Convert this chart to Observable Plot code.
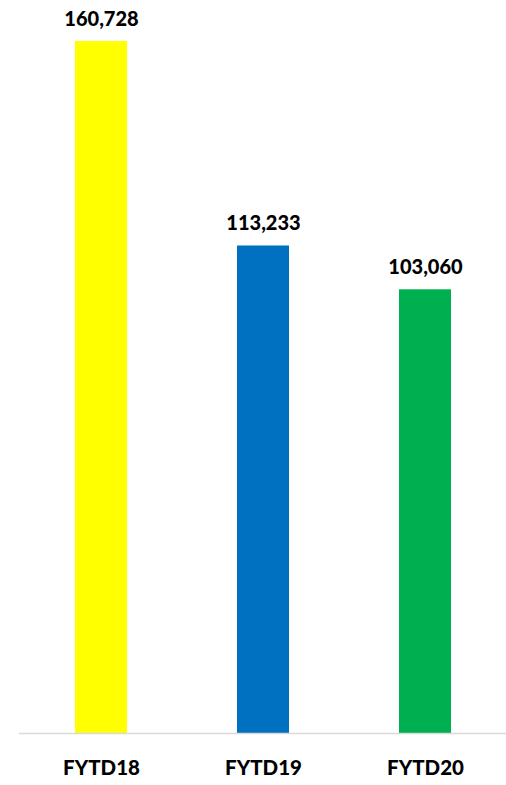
<!DOCTYPE html>
<html><head><meta charset="utf-8">
<script src="https://cdn.jsdelivr.net/npm/d3@7"></script>
<script src="https://cdn.jsdelivr.net/npm/@observablehq/plot@0.6"></script>
<style>body{margin:0;background:#fff;} svg{display:block;}</style>
</head><body><div id="chart"></div>
<script>
const categories = ["FYTD18", "FYTD19", "FYTD20"];
const values = [160728, 113233, 103060];
const colors = ["#ffff00", "#0070c0", "#00b050"];
const data = categories.map((c, i) => ({cat: c, value: values[i], color: colors[i]}));
const fmt = d3.format(",");
const chart = Plot.plot({
  width: 506, height: 785,
  marginLeft: 19, marginRight: 0, marginTop: 41, marginBottom: 52,
  style: {fontFamily: "Lato, 'Open Sans', sans-serif", background: "#fff"},
  x: {domain: categories, paddingInner: 0.68, paddingOuter: 0.34, label: null},
  y: {domain: [0, 160728], axis: null},
  marks: [
    Plot.barY(data, {x: "cat", y: "value", fill: "color"}),
    Plot.ruleY([0], {stroke: "#d9d9d9", strokeWidth: 1.5}),
    Plot.text(data, {x: "cat", y: "value", text: d => fmt(d.value), dy: -22, fontSize: 20, fontWeight: 900, fill: "#000"}),
    Plot.axisX({tickSize: 0, tickPadding: 27, fontSize: 20.5, fontWeight: 900, fill: "#000", label: null})
  ]
});
document.getElementById("chart").append(chart);
</script></body></html>
